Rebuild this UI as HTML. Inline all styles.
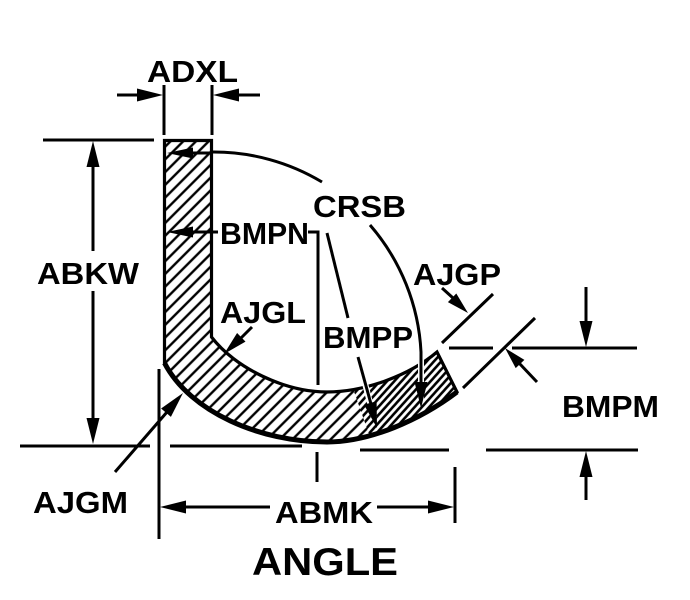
<!DOCTYPE html>
<html><head><meta charset="utf-8"><style>
html,body{margin:0;padding:0;background:#fff;}
svg{display:block;}
text{font-family:"Liberation Sans",Arial,sans-serif;font-weight:bold;fill:#000;}
</style></head><body>
<svg width="690" height="600" viewBox="0 0 690 600" xmlns="http://www.w3.org/2000/svg">
<defs>
<pattern id="h" patternUnits="userSpaceOnUse" width="9" height="9" patternTransform="rotate(-45)">
<rect width="9" height="9" fill="#fff"/><line x1="0" y1="4.5" x2="9" y2="4.5" stroke="#000" stroke-width="2.4"/></pattern>
<pattern id="d" patternUnits="userSpaceOnUse" width="5.4" height="5.4" patternTransform="rotate(-48)">
<rect width="5.4" height="5.4" fill="#fff"/><line x1="0" y1="2.7" x2="5.4" y2="2.7" stroke="#000" stroke-width="2.6"/></pattern>
<clipPath id="sc"><path d="M164.5,140.5 L211.5,140.5 L211.5,337 C235,368 285,392 327,392 C365,392 410,375 437,352 L457,392 C420,420 370,442 327,442 C260,442 190,412 164.5,363 Z"/></clipPath>
</defs>
<rect width="690" height="600" fill="#fff"/>

<!-- hatched shape -->
<g clip-path="url(#sc)">
<rect x="150" y="130" width="330" height="330" fill="url(#h)"/>
<polygon points="343,360 480,300 480,460 378,460" fill="url(#d)"/>
</g>
<path d="M164.5,140.5 L211.5,140.5 L211.5,337 C235,368 285,392 327,392 C365,392 410,375 437,352 L457,392 C420,420 370,442 327,442 C260,442 190,412 164.5,363 Z" fill="none" stroke="#000" stroke-width="3.2" stroke-linejoin="miter"/>
<path d="M457,392 C420,420 370,442 327,442 C260,442 190,412 164.5,363" fill="none" stroke="#000" stroke-width="5"/>

<!-- white halos for arrows in dense region -->
<g stroke="#fff" stroke-width="6" fill="none">
<line x1="421" y1="355" x2="421" y2="400"/>
<line x1="362" y1="372" x2="374" y2="418"/>
</g>

<g stroke="#000" stroke-width="3" fill="none">
<!-- ADXL -->
<line x1="164" y1="85" x2="164" y2="135"/>
<line x1="212" y1="85" x2="212" y2="135"/>
<line x1="117" y1="95" x2="140" y2="95"/>
<line x1="236" y1="95" x2="260" y2="95"/>
<!-- top line -->
<line x1="43" y1="140" x2="154" y2="140"/>
<!-- ABKW -->
<line x1="93" y1="165" x2="93" y2="251"/>
<line x1="93" y1="291" x2="93" y2="420"/>
<!-- bottom lines -->
<line x1="20" y1="446" x2="150" y2="446"/>
<line x1="170" y1="446" x2="302" y2="446"/>
<line x1="360" y1="450" x2="449" y2="450"/>
<line x1="486" y1="450" x2="638" y2="450"/>
<!-- CRSB arc -->
<line x1="188" y1="153" x2="213" y2="153"/>
<path d="M213,152 A210,210 0 0 1 322,182"/>
<path d="M370,225 A210,210 0 0 1 421,352 L421,385"/>
<!-- BMPN -->
<line x1="188" y1="232" x2="218" y2="232"/>
<polyline points="308,232 318,232 318,385"/>
<line x1="317" y1="452" x2="317" y2="482"/>
<!-- BMPP -->
<line x1="327" y1="233" x2="348" y2="318"/>
<line x1="358" y1="357" x2="371" y2="404"/>
<!-- AJGL -->
<line x1="252" y1="327" x2="240" y2="339"/>
<!-- AJGM -->
<line x1="115" y1="472" x2="167" y2="412"/>
<line x1="159" y1="369" x2="159" y2="539"/>
<!-- ABMK -->
<line x1="455" y1="467" x2="455" y2="523"/>
<line x1="184" y1="507" x2="270" y2="507"/>
<line x1="377" y1="507" x2="430" y2="507"/>
<!-- AJGP -->
<line x1="442" y1="288" x2="453" y2="298"/>
<line x1="442" y1="343" x2="493" y2="294"/>
<line x1="463" y1="388" x2="535" y2="318"/>
<line x1="537" y1="382" x2="519" y2="363"/>
<!-- BMPM -->
<line x1="449" y1="348" x2="493" y2="348"/>
<line x1="512" y1="348" x2="637" y2="348"/>
<line x1="586" y1="287" x2="586" y2="323"/>
<line x1="586" y1="476" x2="586" y2="500"/>
</g>

<!-- arrowheads -->
<g fill="#000">
<polygon points="163,95 137,88.5 137,101.5"/>
<polygon points="213,95 239,88.5 239,101.5"/>
<polygon points="93,141 86.5,167 99.5,167"/>
<polygon points="93,444 86.5,418 99.5,418"/>
<polygon points="167,153 193,147.5 193,158.5"/>
<polygon points="167,232 193,226.5 193,237.5"/>
<polygon points="421,408 414.5,382 427.5,382"/>
<polygon points="377,428 376.6,401.2 364,404.6"/>
<polygon points="224,354 245.5,341.6 237.1,333"/>
<polygon points="183,393 170.9,416.9 161.1,408.5"/>
<polygon points="160,507 186,500.5 186,513.5"/>
<polygon points="454,507 428,500.5 428,513.5"/>
<polygon points="468,313 447.9,302.1 456.3,293.5"/>
<polygon points="505,348 524.4,359.9 515.7,368.1"/>
<polygon points="586,347 579.5,321 592.5,321"/>
<polygon points="586,451 579.5,477 592.5,477"/>
</g>

<!-- labels -->
<text x="147" y="82" font-size="31" textLength="91" lengthAdjust="spacingAndGlyphs">ADXL</text>
<text x="313" y="217" font-size="31" textLength="93" lengthAdjust="spacingAndGlyphs">CRSB</text>
<text x="220" y="244" font-size="31" textLength="89" lengthAdjust="spacingAndGlyphs">BMPN</text>
<text x="37" y="284" font-size="31" textLength="102" lengthAdjust="spacingAndGlyphs">ABKW</text>
<text x="413" y="285" font-size="31" textLength="88" lengthAdjust="spacingAndGlyphs">AJGP</text>
<text x="220" y="323" font-size="31" textLength="86" lengthAdjust="spacingAndGlyphs">AJGL</text>
<text x="323" y="348" font-size="31" textLength="90" lengthAdjust="spacingAndGlyphs">BMPP</text>
<text x="562" y="417" font-size="31" textLength="97" lengthAdjust="spacingAndGlyphs">BMPM</text>
<text x="33" y="513" font-size="31" textLength="95" lengthAdjust="spacingAndGlyphs">AJGM</text>
<text x="275" y="523" font-size="31" textLength="98" lengthAdjust="spacingAndGlyphs">ABMK</text>
<text x="252" y="575" font-size="39" textLength="146" lengthAdjust="spacingAndGlyphs">ANGLE</text>
</svg>
</body></html>
